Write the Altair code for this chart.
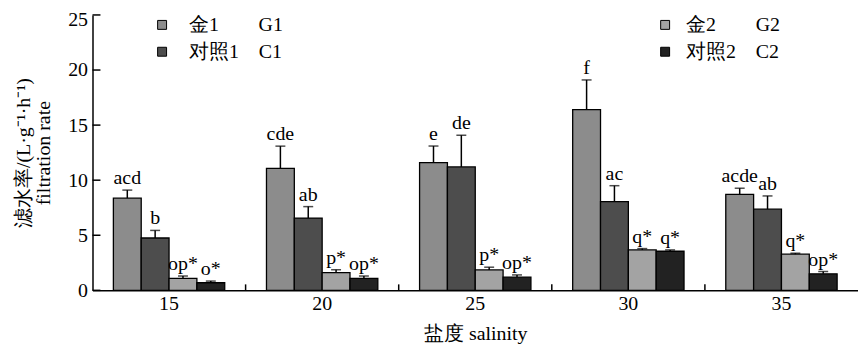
import altair as alt
import pandas as pd

# ---------------- data ----------------
salinity = ["15", "20", "25", "30", "35"]
codes = ["G1", "C1", "G2", "C2"]
names = ["金1", "对照1", "金2", "对照2"]
legend_labels = ["金1\u2003\u2003G1", "对照1\u2003C1", "金2\u2003\u2003G2", "对照2\u2003C2"]

mean_G1 = [8.37, 11.07, 11.6, 16.4, 8.72]
mean_C1 = [4.75, 6.56, 11.2, 8.06, 7.37]
mean_G2 = [1.08, 1.6, 1.85, 3.67, 3.28]
mean_C2 = [0.69, 1.08, 1.2, 3.55, 1.5]

upper_G1 = [9.1, 13.09, 13.1, 19.1, 9.27]
upper_C1 = [5.44, 7.6, 14.08, 9.5, 8.57]
upper_G2 = [1.3, 1.87, 2.1, 3.79, 3.37]
upper_C2 = [0.84, 1.3, 1.4, 3.67, 1.71]

letters_G1 = ["acd", "cde", "e", "f", "acde"]
letters_C1 = ["b", "ab", "de", "ac", "ab"]
letters_G2 = ["op*", "p*", "p*", "q*", "q*"]
letters_C2 = ["o*", "op*", "op*", "q*", "op*"]

y_ticks = [0, 5, 10, 15, 20, 25]
fills = ["#8c8c8c", "#4d4d4d", "#a3a3a3", "#222222"]

means = [mean_G1, mean_C1, mean_G2, mean_C2]
uppers = [upper_G1, upper_C1, upper_G2, upper_C2]
letters = [letters_G1, letters_C1, letters_G2, letters_C2]

rows = []
for k, code in enumerate(codes):
    for i, s in enumerate(salinity):
        rows.append({
            "salinity": s, "code": code, "legend": legend_labels[k],
            "mean": means[k][i], "upper": uppers[k][i], "letter": letters[k][i],
        })
df = pd.DataFrame(rows)
df1 = df[df.code.isin(codes[:2])]
df2 = df[df.code.isin(codes[2:])]
tick_df = pd.DataFrame({"mean": y_ticks})
sep_df = pd.DataFrame({"salinity": salinity[1:]})

# ---------------- style ----------------
FONT = "Liberation Serif"
W, H = 770, 277

x_axis = alt.Axis(
    title="盐度 salinity", labelAngle=0, ticks=False, tickSize=0, labelPadding=3,
    titleY=43, titleBaseline="middle", domainColor="black", domainWidth=1.5,
    labelFont=FONT, titleFont=FONT, labelFontSize=20, titleFontSize=20,
    labelColor="black", titleColor="black", titleFontWeight="normal", grid=False,
)
y_axis = alt.Axis(
    title=["滤水率/(L·g⁻¹·h⁻¹)", "filtration rate"], values=y_ticks, ticks=False, tickSize=0,
    labelPadding=5, domainColor="black", domainWidth=1.5, grid=False,
    labelOffset={"condition": {"test": "datum.value == 25", "value": 5}, "value": 0},
    labelFont=FONT, titleFont=FONT, labelFontSize=20, titleFontSize=20,
    labelColor="black", titleColor="black", titleFontWeight="normal",
    titleAngle=270, titleX=-59, titleY=H / 2, titleAlign="center", titleBaseline="bottom",
    titleLineHeight=20,
)
x_scale = alt.Scale(domain=salinity, paddingInner=0, paddingOuter=0)
y_scale = alt.Scale(domain=[0, 25], nice=False)

X = alt.X("salinity:N", sort=salinity, scale=x_scale, axis=x_axis)
XO = alt.XOffset("code:N", sort=codes, scale=alt.Scale(domain=codes, paddingInner=0, paddingOuter=0.75))
Y = alt.Y("mean:Q", scale=y_scale, axis=y_axis)
YU = alt.Y("upper:Q", scale=y_scale, axis=y_axis)


def legend(xpos, offset):
    return alt.Legend(
        orient="none", legendX=xpos, legendY=0, title=None, symbolType="square",
        symbolSize=81, symbolStrokeColor="black", symbolStrokeWidth=1, padding=0,
        labelFont=FONT, labelFontSize=20, labelColor="black", labelOffset=offset,
        rowPadding=7, labelLimit=300,
    )


bars1 = alt.Chart(df1).mark_bar(stroke="black", strokeWidth=1.3).encode(
    x=X, xOffset=XO, y=Y,
    color=alt.Color("legend:N", scale=alt.Scale(domain=legend_labels[:2], range=fills[:2]),
                    legend=legend(60, 17)),
)
bars2 = alt.Chart(df2).mark_bar(stroke="black", strokeWidth=1.3).encode(
    x=X, xOffset=XO, y=Y,
    color=alt.Color("legend:N", scale=alt.Scale(domain=legend_labels[2:], range=fills[2:]),
                    legend=legend(566, 11)),
)

err = alt.Chart(df).mark_rule(color="black", strokeWidth=1.5).encode(
    x=X, xOffset=XO, y=Y, y2="upper:Q"
)
caps = alt.Chart(df).mark_tick(color="black", thickness=1.5, size=10).encode(
    x=X, xOffset=XO, y=YU
)
labels = alt.Chart(df).mark_text(
    baseline="alphabetic", dy=-6, font=FONT, fontSize=20, color="black"
).encode(x=X, xOffset=XO, y=YU, text="letter:N")

yticks = alt.Chart(tick_df).mark_rule(color="black", strokeWidth=1.5).encode(
    y=Y, x=alt.value(0), x2=alt.value(8)
)
seps = alt.Chart(sep_df).mark_rule(color="black", strokeWidth=1.5).encode(
    x=alt.X("salinity:N", sort=salinity, scale=x_scale, axis=x_axis, bandPosition=0),
    y=alt.value(H), y2=alt.value(H - 6),
)

chart = (
    alt.layer(bars1, bars2, err, caps, labels, yticks, seps)
    .resolve_scale(color="independent")
    .properties(
        width=W, height=H,
        padding={"left": 85, "top": 6, "right": 0, "bottom": 56},
        autosize=alt.AutoSizeParams(type="none"),
        background="white",
    )
    .configure_view(stroke=None)
)

chart.save("out.html", embed_options={"renderer": "svg", "actions": False})
